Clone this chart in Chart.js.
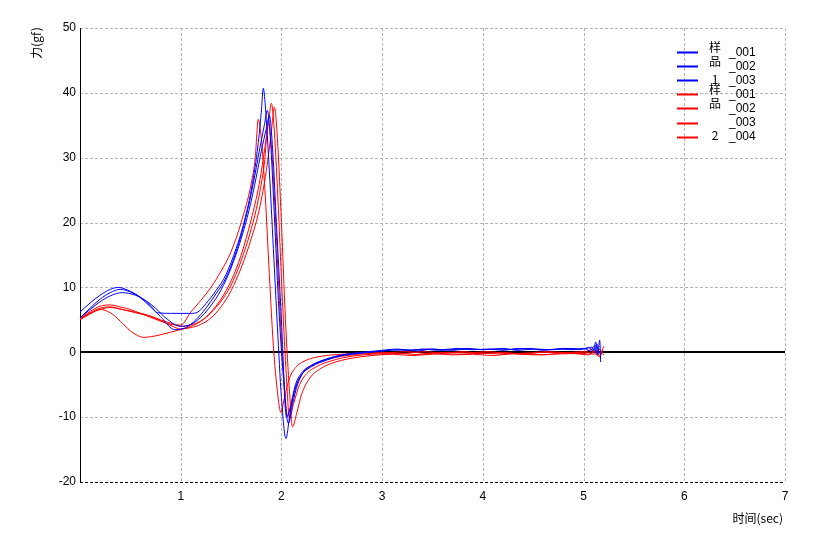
<!DOCTYPE html>
<html>
<head>
<meta charset="utf-8">
<script src="https://cdn.jsdelivr.net/npm/chart.js@4/dist/chart.umd.min.js"></script>
<style>
html,body{margin:0;padding:0;background:#fff;}
canvas{display:block;}
</style>
</head>
<body>
<canvas id="c" width="819" height="548"></canvas>
<script>
// ---- data ----
const xTicks = [1, 2, 3, 4, 5, 6, 7];
const yTicks = [-20, -10, 0, 10, 20, 30, 40, 50];
const xTitle = '时间(sec)';
const yTitle = '力(gf)';
const legendPrefix = ['样', '品', '1', '样', '品', '', '2'];
const legendSuffix = ['_001', '_002', '_003', '_001', '_002', '_003', '_004'];
const seriesNames = ['样品1_001', '样品1_002', '样品1_003', '样品2_001', '样品2_002', '样品2_003', '样品2_004'];
const seriesColors = ['#0000ff', '#0000ff', '#0000ff', '#ff0000', '#ff0000', '#ff0000', '#ff0000'];

const b1t = [0,0.1,0.2,0.3,0.38,0.5,0.6,0.7,0.77,0.9,1.0,1.1,1.17,1.25,1.35,1.45,1.55,1.62,1.7,1.76,1.8,1.82,1.84,1.88,1.92,1.96,2.0,2.045,2.08,2.13,2.2,2.3,2.45,2.6,2.8,
  3.0,3.15,3.3,3.45,3.6,3.75,3.9,4.05,4.2,4.35,4.5,4.65,4.8,4.95,5.05,5.1,5.12,5.14,5.16,5.17];
const b1v = [6.2,7.6,8.8,9.7,10.0,9.4,8.5,7.2,6.1,6.0,6.0,6.0,6.2,7.5,9.5,12,16,19.5,25,31,37,40.7,38,28,16,4,-7,-13.3,-10,-5.5,-3.2,-2.0,-1.0,-0.4,0,
  0.3,0.5,0.3,0.5,0.4,0.6,0.4,0.5,0.3,0.6,0.5,0.4,0.6,0.4,0.7,0.3,1.6,-0.3,1.9,-1.5];

const b2t = [0,0.1,0.2,0.3,0.4,0.5,0.6,0.7,0.8,0.94,1.05,1.15,1.25,1.35,1.45,1.55,1.65,1.72,1.78,1.83,1.86,1.89,1.93,1.97,2.02,2.07,2.11,2.16,2.22,2.3,2.45,2.6,2.8,
  3.0,3.2,3.35,3.5,3.7,3.85,4.0,4.2,4.35,4.5,4.7,4.85,5.0,5.08,5.11,5.13,5.15];
const b2v = [5.3,6.8,8.2,9.2,9.7,9.3,8.4,7.0,5.5,3.5,3.8,5.0,6.8,9.0,11.5,15.5,21,26,31,35,37.3,33,21,8,-4,-11,-8,-5,-3,-2,-1.1,-0.5,-0.1,
  0.2,0.4,0.2,0.5,0.3,0.5,0.4,0.6,0.3,0.5,0.4,0.6,0.5,0.8,0.2,1.3,-0.4];

const b3t = [0,0.1,0.2,0.3,0.42,0.55,0.65,0.75,0.85,1.0,1.1,1.2,1.3,1.4,1.5,1.6,1.68,1.75,1.8,1.85,1.88,1.91,1.95,2.0,2.05,2.09,2.14,2.2,2.3,2.45,2.6,2.8,
  3.0,3.1,3.25,3.4,3.55,3.7,3.85,4.0,4.15,4.3,4.45,4.6,4.75,4.9,5.0,5.07,5.1,5.13,5.15];
const b3v = [5.3,6.6,7.8,8.7,9.2,8.8,8.0,6.8,5.3,4.0,4.3,5.4,7.2,9.6,13,17.5,22,27,31,34.5,36.5,32,20,5,-10,-8.5,-5.5,-3.5,-2.2,-1.2,-0.5,-0.1,
  0.2,0.4,0.3,0.5,0.3,0.4,0.6,0.4,0.5,0.4,0.6,0.3,0.5,0.4,0.6,0.2,0.9,-0.2,0.6];

const r1t = [0,0.1,0.2,0.3,0.4,0.5,0.6,0.7,0.8,0.9,1.0,1.1,1.2,1.3,1.4,1.5,1.6,1.7,1.74,1.77,1.8,1.84,1.88,1.92,1.96,1.995,2.03,2.08,2.15,2.25,2.4,2.6,2.8,
  3.0,3.2,3.4,3.6,3.8,4.0,4.2,4.4,4.6,4.8,5.0,5.1,5.15,5.2];
const r1v = [5.2,6.3,7.1,7.3,7.0,6.6,6.0,5.4,4.8,4.3,4.2,6.2,8.0,10,12.5,15.5,20,26,30,35.9,33,24,12,1,-6,-9.3,-7,-4,-2.2,-1.2,-0.6,-0.3,-0.1,
  0,-0.2,0.1,-0.1,0.1,-0.2,0,-0.3,0,-0.1,0.1,-0.3,0.5,-0.4];

const r2t = [0,0.1,0.2,0.3,0.4,0.5,0.57,0.63,0.7,0.8,0.9,1.0,1.1,1.2,1.3,1.4,1.5,1.6,1.7,1.78,1.84,1.88,1.9,1.93,1.97,2.01,2.05,2.08,2.12,2.18,2.25,2.35,2.5,2.7,2.9,
  3.2,3.4,3.6,3.8,4.0,4.2,4.4,4.6,4.8,5.0,5.1,5.16,5.2];
const r2v = [5.0,5.9,6.6,6.1,4.8,3.3,2.6,2.3,2.4,2.7,3.1,3.5,4.0,4.8,6.2,8.2,11,15,20.5,26,32,36.5,38.4,34,22,8,-4,-10.2,-8,-5,-3.3,-2.2,-1.3,-0.6,-0.3,
  -0.2,-0.4,-0.2,-0.3,-0.1,-0.3,-0.2,-0.4,-0.1,-0.2,0.1,-0.7,0.9];

const r3t = [0,0.1,0.2,0.3,0.42,0.55,0.68,0.8,0.92,1.0,1.1,1.2,1.3,1.4,1.5,1.6,1.7,1.78,1.85,1.9,1.93,1.96,2.0,2.04,2.08,2.11,2.15,2.2,2.28,2.38,2.5,2.7,2.9,
  3.1,3.3,3.5,3.7,3.9,4.1,4.3,4.5,4.7,4.9,5.05,5.12,5.16,5.19];
const r3v = [5.1,6.1,6.8,7.0,6.6,6.1,5.6,4.9,4.0,3.6,3.8,4.3,5.3,7.0,9.5,13,17.5,22,28,34,37.8,33,20,5,-6,-11.5,-9.5,-6.5,-4,-2.6,-1.7,-0.9,-0.5,
  -0.3,-0.5,-0.2,-0.4,-0.3,-0.5,-0.2,-0.4,-0.3,-0.2,-0.4,0.2,-0.5,0.4];

const r4t = [0,0.1,0.2,0.3,0.42,0.55,0.68,0.8,0.92,1.02,1.12,1.22,1.32,1.42,1.52,1.62,1.7,1.77,1.83,1.87,1.9,1.94,1.98,2.02,2.06,2.1,2.16,2.24,2.34,2.48,2.65,2.85,
  3.05,3.25,3.45,3.65,3.85,4.05,4.25,4.45,4.65,4.85,5.0,5.08,5.13,5.18];
const r4v = [5.2,6.0,6.6,6.9,6.6,6.2,5.7,5.0,4.4,4.0,4.3,5.0,6.4,8.3,11,15,19,23.5,29,35.3,32,21,8,-3,-9.8,-7.5,-4.5,-2.8,-1.8,-1.0,-0.5,-0.2,
  -0.1,0.1,-0.2,0,-0.1,0.1,-0.2,-0.1,0.1,-0.1,0,0.4,-0.4,0.2];

const seriesT = [b1t, b2t, b3t, r1t, r2t, r3t, r4t];
const seriesV = [b1v, b2v, b3v, r1v, r2v, r3v, r4v];

// ---- build ----
const datasets = seriesNames.map((name, i) => ({
  label: name,
  data: seriesT[i].map((t, k) => ({x: t, y: seriesV[i][k]})),
  borderColor: seriesColors[i],
  backgroundColor: seriesColors[i],
  borderWidth: 1,
  pointRadius: 0,
  fill: false,
  cubicInterpolationMode: 'monotone'
}));

const gridPlugin = {
  id: 'gridPlugin',
  beforeDatasetsDraw(chart) {
    const {ctx, chartArea: a, scales: {x, y}} = chart;
    ctx.save();
    ctx.lineWidth = 1;
    ctx.strokeStyle = '#b4b4b4';
    ctx.setLineDash([3, 2]);
    xTicks.forEach(v => {
      const px = Math.round(x.getPixelForValue(v)) + 0.5;
      ctx.beginPath(); ctx.moveTo(px, a.top); ctx.lineTo(px, a.bottom); ctx.stroke();
    });
    yTicks.forEach(v => {
      if (v === 0 || v === -20) return;
      const py = Math.round(y.getPixelForValue(v)) + 0.5;
      ctx.beginPath(); ctx.moveTo(a.left, py); ctx.lineTo(a.right, py); ctx.stroke();
    });
    ctx.strokeStyle = '#000';
    const pb = Math.round(y.getPixelForValue(-20)) + 0.5;
    ctx.beginPath(); ctx.moveTo(a.left, pb); ctx.lineTo(a.right, pb); ctx.stroke();
    ctx.setLineDash([]);
    const pl = Math.round(x.getPixelForValue(0)) + 0.5;
    ctx.beginPath(); ctx.moveTo(pl, a.top); ctx.lineTo(pl, a.bottom); ctx.stroke();
    ctx.lineWidth = 2;
    const p0 = Math.round(y.getPixelForValue(0));
    ctx.beginPath(); ctx.moveTo(a.left, p0); ctx.lineTo(a.right, p0); ctx.stroke();
    ctx.restore();
  },
  afterDraw(chart) {
    const {ctx} = chart;
    ctx.save();
    chart.data.datasets.forEach((ds, i) => {
      const ry = 52 + i * 14.1;
      ctx.strokeStyle = ds.borderColor;
      ctx.lineWidth = 2;
      ctx.beginPath(); ctx.moveTo(677, Math.round(ry) + 0.5); ctx.lineTo(698, Math.round(ry) + 0.5); ctx.stroke();
      ctx.fillStyle = '#000';
      ctx.textBaseline = 'middle';
      ctx.font = '12px "Noto Sans CJK SC", "DejaVu Sans", sans-serif';
      ctx.textAlign = 'center';
      const pre = legendPrefix[i];
      const isCJK = /[\u4e00-\u9fff]/.test(pre);
      ctx.fillText(pre, 715, ry - (isCJK ? 5 : 1));
      ctx.textAlign = 'left';
      ctx.font = '12px "Liberation Sans", Arial, sans-serif';
      ctx.fillText(legendSuffix[i], 729, ry + 0.5);
    });
    ctx.fillStyle = '#000';
    ctx.font = '12px "Noto Sans CJK SC", sans-serif';
    ctx.textAlign = 'right';
    ctx.textBaseline = 'middle';
    ctx.fillText(xTitle, 783, 518);
    ctx.translate(36, 43);
    ctx.rotate(-Math.PI / 2);
    ctx.textAlign = 'center';
    ctx.fillText(yTitle, 0, 0);
    ctx.restore();
  }
};

new Chart(document.getElementById('c'), {
  type: 'line',
  data: {datasets},
  options: {
    responsive: false,
    animation: false,
    devicePixelRatio: 1,
    layout: {padding: {left: 0, right: 34, top: 28, bottom: 0}},
    plugins: {legend: {display: false}, tooltip: {enabled: false}, title: {display: false}},
    scales: {
      x: {
        type: 'linear', min: 0, max: 7,
        afterFit(s) { s.height = 66; },
        afterBuildTicks(s) { s.ticks = [0].concat(xTicks).map(v => ({value: v})); },
        ticks: {
          callback: v => (v === 0 ? '' : String(v)),
          color: '#000', padding: 7, maxRotation: 0, autoSkip: false,
          font: {family: '"Liberation Sans", Arial, sans-serif', size: 12}
        },
        grid: {display: false, drawTicks: false},
        border: {display: false}
      },
      y: {
        type: 'linear', min: -20, max: 50,
        afterFit(s) { s.width = 80; },
        afterBuildTicks(s) { s.ticks = yTicks.map(v => ({value: v})); },
        ticks: {
          color: '#000', padding: 4, autoSkip: false,
          font: {family: '"Liberation Sans", Arial, sans-serif', size: 12}
        },
        grid: {display: false, drawTicks: false},
        border: {display: false}
      }
    }
  },
  plugins: [gridPlugin]
});
</script>
</body>
</html>
